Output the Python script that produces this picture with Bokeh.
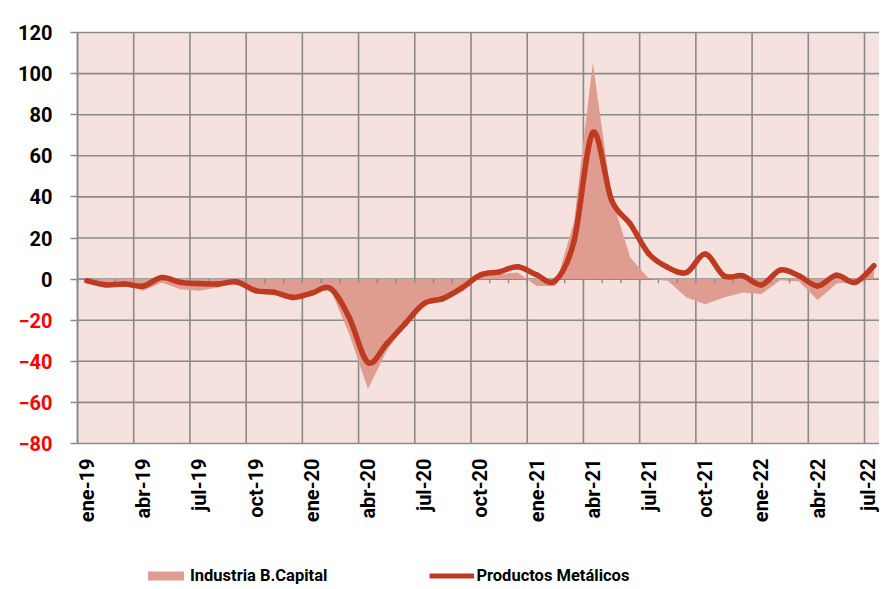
from bokeh.plotting import figure
from bokeh.models import (Range1d, FixedTicker, Legend, LegendItem, LinearAxis, BoxAnnotation)
from bokeh.layouts import column
from bokeh.embed import file_html
from bokeh.resources import INLINE
import numpy as np
import math

# ---------------- data ----------------
month_names = ["ene", "feb", "mar", "abr", "may", "jun", "jul", "ago", "sep", "oct", "nov", "dic"]
years = ["19", "20", "21", "22"]
categories = [f"{m}-{y}" for y in years for m in month_names][:43]   # ene-19 .. jul-22

industria_bcapital = [
    -1.0, -2.0, -2.5, -5.7, -1.6, -4.9, -5.7, -4.1, -1.5, -5.7, -6.5, -8.5,
    -6.5, -5.0, -26.7, -53.5, -35.0, -22.0, -12.0, -10.0, -4.0, 2.0, 2.5, 3.2,
    -3.3, -3.3, 28.0, 105.4, 40.0, 10.5, 0.0, -0.8, -9.0, -12.2, -9.0, -6.5,
    -7.3, -0.5, -1.2, -10.2, -2.3, -1.0, 5.0,
]
productos_metalicos = [
    -0.8, -2.8, -2.4, -3.4, 0.8, -1.6, -2.2, -2.4, -1.4, -5.6, -6.4, -8.9,
    -6.8, -4.6, -18.7, -40.6, -31.5, -21.5, -11.9, -9.5, -4.4, 2.0, 3.5, 6.0,
    2.1, -0.8, 18.6, 71.3, 38.5, 26.8, 12.2, 5.7, 3.2, 12.2, 1.6, 1.6,
    -2.8, 4.4, 1.6, -3.3, 1.9, -1.6, 6.5,
]
y_ticks = [-80, -60, -40, -20, 0, 20, 40, 60, 80, 100, 120]
label_every = 3
series_names = ["Industria B.Capital", "Productos Metálicos"]

# ---------------- styles ----------------
BG = "#F5E2DF"
AREA = "#DF9C91"
LINE = "#BE3A20"
GRID = "#8A8A8A"
FONT = "Roboto"
W = 879
PLOT_LEFT_PX = 77          # where the plotting area begins inside the frame
PAD_PX = 12                # frame padding above/below the plotting area (room for labels)
TOP_PX, PLOT_H_PX = 32, 411

n = len(categories)
xs = np.arange(n, dtype=float)
x_lo, x_hi = -0.5, 42.3
xscale = (W - PLOT_LEFT_PX) / (x_hi - x_lo)
x_start = x_lo - PLOT_LEFT_PX / xscale
y_lo, y_hi = y_ticks[0], y_ticks[-1]
yscale = PLOT_H_PX / (y_hi - y_lo)
dy = PAD_PX / yscale

p = figure(width=W, height=535, output_backend="svg", toolbar_location=None,
           x_range=Range1d(x_start, x_hi), y_range=Range1d(y_lo - dy, y_hi + dy),
           y_axis_location=None,
           min_border_left=0, min_border_right=0,
           min_border_top=TOP_PX - PAD_PX, min_border_bottom=535 - TOP_PX - PLOT_H_PX - PAD_PX)
p.background_fill_color = "white"
p.border_fill_color = "white"
p.outline_line_color = None
p.xgrid.visible = False
p.ygrid.visible = False

# plotting-area background
p.add_layout(BoxAnnotation(left=x_lo, bottom=y_lo, top=y_hi, fill_color=BG, fill_alpha=1.0,
                           line_color=None, level="image"))

# grid lines restricted to the plotting area
yt = np.array(y_ticks, dtype=float)
p.segment(x0=np.full_like(yt, x_lo), y0=yt, x1=np.full_like(yt, x_hi), y1=yt,
          line_color=GRID, line_width=1.6, level="underlay")
xq = np.arange(x_lo, n - 1, label_every)
p.segment(x0=xq, y0=np.full_like(xq, y_lo), x1=xq, y1=np.full_like(xq, y_hi),
          line_color=GRID, line_width=1.6, level="underlay")

# x axis (labels only; its line is the -80 grid line)
p.xaxis.ticker = FixedTicker(ticks=list(range(0, n, label_every)))
p.xaxis.major_label_overrides = {i: categories[i] for i in range(0, n, label_every)}
p.xaxis.major_label_orientation = math.pi / 2
p.xaxis.major_tick_line_color = None
p.xaxis.major_tick_out = 0
p.xaxis.minor_tick_line_color = None
p.xaxis.axis_line_color = None
p.xaxis.major_label_text_font = FONT
p.xaxis.major_label_text_font_style = "bold"
p.xaxis.major_label_text_font_size = "20px"
p.xaxis.major_label_text_color = "black"
p.xaxis.major_label_standoff = 3

# y axes drawn at the plotting-area edge: black labels for >= 0, red for < 0
def make_y(ticks, color, line):
    ax = LinearAxis(ticker=FixedTicker(ticks=ticks), fixed_location=x_lo, bounds=(y_lo, y_hi))
    ax.axis_line_color = GRID if line else None
    ax.axis_line_width = 1.6
    ax.major_tick_out = 7
    ax.major_tick_in = 0
    ax.major_tick_line_color = GRID
    ax.major_tick_line_width = 1.6
    ax.minor_tick_line_color = None
    ax.major_label_text_font = FONT
    ax.major_label_text_font_style = "bold"
    ax.major_label_text_font_size = "20px"
    ax.major_label_text_color = color
    ax.major_label_standoff = 18
    p.add_layout(ax, "left")

make_y([t for t in y_ticks if t >= 0], "black", True)
make_y([t for t in y_ticks if t < 0], "#FF0000", False)

# area series
area = p.varea(x=xs, y1=0, y2=industria_bcapital, fill_color=AREA)

# monthly tick marks on the zero line
bounds = np.arange(x_lo, n - 1, 1.0)
p.segment(x0=bounds, y0=np.zeros_like(bounds), x1=bounds, y1=np.full_like(bounds, -2.0),
          line_color=GRID, line_width=1.4)

# smoothed line (Catmull-Rom -> cubic Bezier)
P = np.array(productos_metalicos, dtype=float)
Pm = np.concatenate([[P[0]], P, [P[-1]]])
Xm = np.concatenate([[xs[0]], xs, [xs[-1]]])
x0, y0 = Xm[1:-2], Pm[1:-2]
x1, y1 = Xm[2:-1], Pm[2:-1]
cx0 = x0 + (Xm[2:-1] - Xm[0:-3]) / 6.0
cy0 = y0 + (Pm[2:-1] - Pm[0:-3]) / 6.0
cx1 = x1 - (Xm[3:] - Xm[1:-2]) / 6.0
cy1 = y1 - (Pm[3:] - Pm[1:-2]) / 6.0
p.bezier(x0=x0, y0=y0, x1=x1, y1=y1, cx0=cx0, cy0=cy0, cx1=cx1, cy1=cy1,
         line_color=LINE, line_width=5.5, line_cap="round")

# ---------------- legend strip ----------------
q = figure(width=W, height=52, output_backend="svg", toolbar_location=None,
           x_range=Range1d(0, 1), y_range=Range1d(0, 1),
           min_border_left=0, min_border_right=0, min_border_top=0, min_border_bottom=0)
q.axis.visible = False
q.grid.visible = False
q.outline_line_color = None
q.background_fill_color = "white"
nan = float("nan")
r_area = q.varea(x=[nan, nan], y1=[nan, nan], y2=[nan, nan], fill_color=AREA)
r_line = q.line(x=[nan, nan], y=[nan, nan], line_color=LINE, line_width=5, line_cap="butt")
legend = Legend(items=[LegendItem(label=series_names[0], renderers=[r_area]),
                       LegendItem(label=series_names[1], renderers=[r_line])],
                orientation="horizontal", location=(143, 2),
                glyph_width=45, glyph_height=11, label_standoff=2, spacing=102,
                padding=0, margin=0, border_line_color=None, background_fill_alpha=0,
                label_text_font=FONT, label_text_font_style="bold",
                label_text_font_size="16.5px", label_text_color="black")
q.add_layout(legend, "center")

layout = column(p, q, spacing=0)
open("out.html", "w").write(file_html(layout, INLINE))
